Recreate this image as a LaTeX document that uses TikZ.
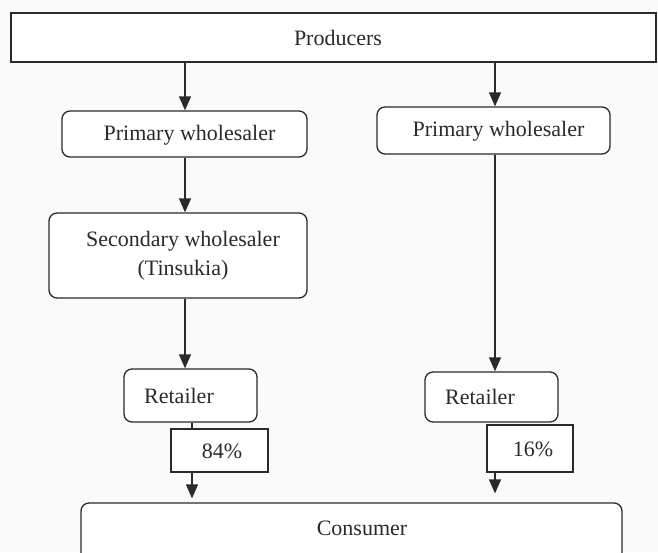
\documentclass[tikz,border=0pt]{standalone}
\usepackage{fontspec}
\setmainfont{Liberation Serif}
\usetikzlibrary{arrows.meta}
\definecolor{ink}{HTML}{2A2A2A}
\definecolor{bg}{HTML}{FAFAFA}
\begin{document}
\begin{tikzpicture}[x=1pt,y=-1pt,
  box/.style={draw=ink,line width=1.3pt,fill=white,rectangle,inner sep=0pt},
  rbox/.style={box,rounded corners=8pt},
  txt/.style={text=ink,font=\fontsize{22}{30}\selectfont,inner sep=0pt,align=center},
  arr/.style={draw=ink,line width=1.3pt,-{Triangle[width=12pt,length=14pt]}},
  ln/.style={draw=ink,line width=1.3pt}]
\fill[bg] (0,0) rectangle (658,552);
\useasboundingbox (0,0) rectangle (658,552);
\begin{scope}
\clip (0,0) rectangle (658,552);
% boxes
\node[box,minimum width=645pt,minimum height=49pt] (prod) at (333.5,37.5) {};
\node[rbox,minimum width=245pt,minimum height=46pt] (pwl) at (184.5,134) {};
\node[rbox,minimum width=233pt,minimum height=47pt] (pwr) at (493.5,130.5) {};
\node[rbox,minimum width=258pt,minimum height=85pt] (sw) at (178,255.5) {};
\node[rbox,minimum width=133pt,minimum height=53pt] (retl) at (190.5,395.5) {};
\node[box,minimum width=97pt,minimum height=43pt] (p84) at (219.5,450.5) {};
\node[rbox,minimum width=133pt,minimum height=50pt] (retr) at (491.5,397) {};
\node[box,minimum width=86pt,minimum height=47pt] (p16) at (530,448.5) {};
\node[rbox,minimum width=541pt,minimum height=62pt] (cons) at (351.5,534) {};
% texts
\node[txt] (tprod) at (338,38) {Producers};
\node[txt] (tpwl) at (189.5,135) {Primary wholesaler};
\node[txt] (tpwr) at (498.5,131) {Primary wholesaler};
\node[txt] (tsw1) at (183,241) {Secondary wholesaler};
\node[txt] (tsw2) at (183,270) {(Tinsukia)};
\node[txt] (tretl) at (179,396) {Retailer};
\node[txt] (t84) at (222,451) {84\%};
\node[txt] (tretr) at (480,397) {Retailer};
\node[txt] (t16) at (533,449) {16\%};
\node[txt] (tcons) at (362,528) {Consumer};
% connectors
\draw[arr] (prod.south -| 185,0) -- (pwl.north -| 185,0);
\draw[arr] (prod.south -| 495,0) -- (pwr.north -| 495,0);
\draw[arr] (pwl.south -| 185,0) -- (sw.north -| 185,0);
\draw[arr] (sw.south -| 185,0) -- (retl.north -| 185,0);
\draw[arr] (pwr.south -| 495,0) -- (retr.north -| 495,0);
\draw[ln] (retl.south -| 192,0) -- (p84.north -| 192,0);
\draw[arr,shorten >=4pt] (p84.south -| 192,0) -- (cons.north -| 192,0);
\draw[arr,shorten >=9pt] (p16.south -| 495,0) -- (cons.north -| 495,0);
\end{scope}
\end{tikzpicture}
\end{document}
